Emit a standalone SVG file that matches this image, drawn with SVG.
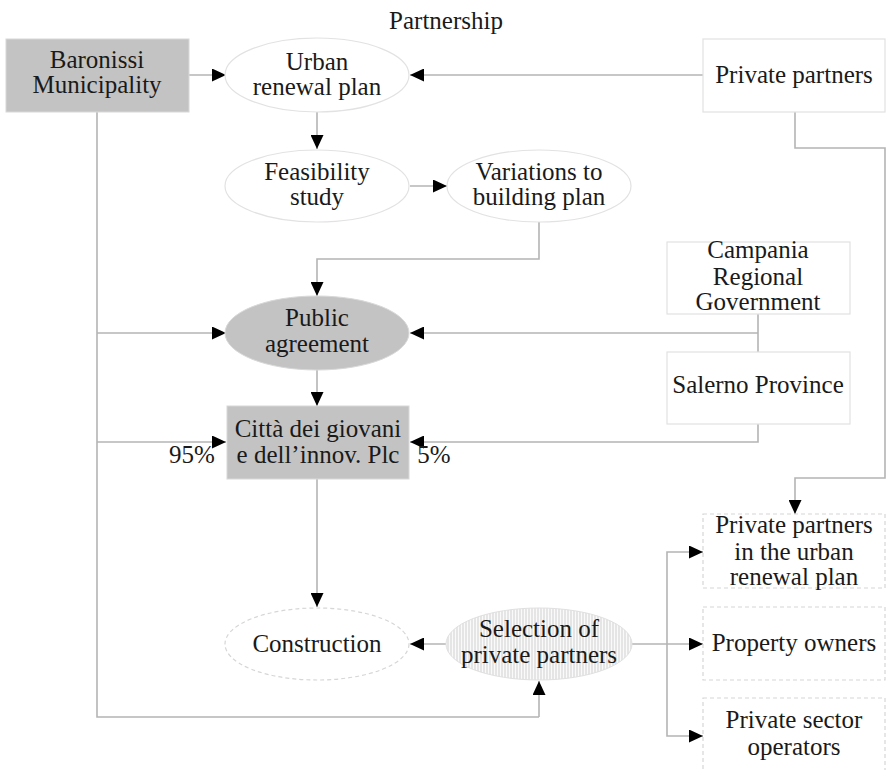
<svg xmlns="http://www.w3.org/2000/svg" width="886" height="770" viewBox="0 0 886 770">
<defs>
<marker id="arr" markerUnits="userSpaceOnUse" markerWidth="14" markerHeight="13" refX="14" refY="6.5" orient="auto">
<path d="M0,0 L14,6.5 L0,13 z" fill="#000"/>
</marker>
<pattern id="hatch" patternUnits="userSpaceOnUse" width="3" height="10">
<rect width="3" height="10" fill="#fafafa"/>
<line x1="1" y1="0" x2="1" y2="10" stroke="#d0d0d0" stroke-width="1"/>
</pattern>
</defs>
<style>
text{font-family:"Liberation Serif","Times New Roman",serif;font-size:25px;fill:#1a1a1a;text-anchor:middle}
.gray{fill:#c3c3c3;stroke:#d8d8d8;stroke-width:1}
.plain{fill:#fff;stroke:#e2e2e2;stroke-width:1.2}
.dash{fill:#fff;stroke:#d6d6d6;stroke-width:1.2;stroke-dasharray:4 3}
.c{fill:none;stroke:#b4b4b4;stroke-width:1.6}
.a{marker-end:url(#arr)}
</style>
<rect width="886" height="770" fill="#fff"/>
<text x="446" y="29">Partnership</text>

<g id="connectors">
<line class="c a" x1="189" y1="75" x2="226" y2="75"/>
<line class="c a" x1="703" y1="75" x2="410" y2="75"/>
<line class="c a" x1="317" y1="112" x2="317" y2="149"/>
<line class="c a" x1="410" y1="186" x2="447" y2="186"/>
<polyline class="c a" points="539,222 539,259 317,259 317,296"/>
<polyline class="c" points="97,112 97,717 539,717"/>
<line class="c a" x1="539" y1="717" x2="539" y2="681"/>
<line class="c a" x1="97" y1="333" x2="226" y2="333"/>
<line class="c a" x1="97" y1="442" x2="226" y2="442"/>
<line class="c" x1="758" y1="314" x2="758" y2="352"/>
<line class="c a" x1="758" y1="333" x2="410" y2="333"/>
<polyline class="c a" points="758,424 758,442 410,442"/>
<line class="c a" x1="317" y1="369" x2="317" y2="406"/>
<line class="c a" x1="317" y1="479" x2="317" y2="607"/>
<line class="c a" x1="446" y1="644" x2="410" y2="644"/>
<polyline class="c a" points="795,112 795,148 885,148 885,478 795,478 795,514"/>
<line class="c a" x1="632" y1="644" x2="703" y2="644"/>
<polyline class="c a" points="667,644 667,736 703,736"/>
<polyline class="c a" points="667,644 667,552 703,552"/>
</g>

<g id="baronissi">
<rect class="gray" x="6" y="39" width="183" height="73"/>
<text x="97" y="68">Baronissi</text>
<text x="97" y="93">Municipality</text>
</g>
<g id="urban-renewal-plan">
<ellipse class="plain" cx="317" cy="75" rx="92" ry="37"/>
<text x="317" y="70">Urban</text>
<text x="317" y="95">renewal plan</text>
</g>
<g id="private-partners">
<rect class="plain" x="703" y="39" width="182" height="73"/>
<text x="794" y="83">Private partners</text>
</g>
<g id="feasibility">
<ellipse class="plain" cx="317" cy="186" rx="92" ry="36"/>
<text x="317" y="180">Feasibility</text>
<text x="317" y="205">study</text>
</g>
<g id="variations">
<ellipse class="plain" cx="539" cy="186" rx="92" ry="36"/>
<text x="539" y="180">Variations to</text>
<text x="539" y="205">building plan</text>
</g>
<g id="public-agreement">
<ellipse class="gray" cx="317" cy="333" rx="92" ry="37"/>
<text x="317" y="326">Public</text>
<text x="317" y="352">agreement</text>
</g>
<g id="campania">
<rect class="plain" x="667" y="242" width="183" height="72"/>
<text x="758" y="258">Campania</text>
<text x="758" y="285">Regional</text>
<text x="758" y="310">Government</text>
</g>
<g id="salerno">
<rect class="plain" x="667" y="352" width="183" height="72"/>
<text x="758" y="393">Salerno Province</text>
</g>
<g id="citta">
<rect class="gray" x="227" y="406" width="182" height="73"/>
<text x="318" y="437">Città dei giovani</text>
<text x="318" y="463">e dell’innov. Plc</text>
</g>
<text x="192" y="463">95%</text>
<text x="434" y="463">5%</text>
<g id="construction">
<ellipse class="dash" cx="317" cy="644" rx="92" ry="36"/>
<text x="317" y="652">Construction</text>
</g>
<g id="selection">
<ellipse cx="539" cy="644" rx="93" ry="36" fill="url(#hatch)" stroke="#e0e0e0" stroke-width="1"/>
<text x="539" y="637">Selection of</text>
<text x="539" y="663">private partners</text>
</g>
<g id="pp-urban">
<rect class="dash" x="703" y="514" width="182" height="74"/>
<text x="794" y="533">Private partners</text>
<text x="794" y="560">in the urban</text>
<text x="794" y="585">renewal plan</text>
</g>
<g id="property-owners">
<rect class="dash" x="703" y="607" width="182" height="73"/>
<text x="794" y="651">Property owners</text>
</g>
<g id="private-sector">
<rect class="dash" x="703" y="698" width="182" height="74"/>
<text x="794" y="728">Private sector</text>
<text x="794" y="755">operators</text>
</g>
</svg>
